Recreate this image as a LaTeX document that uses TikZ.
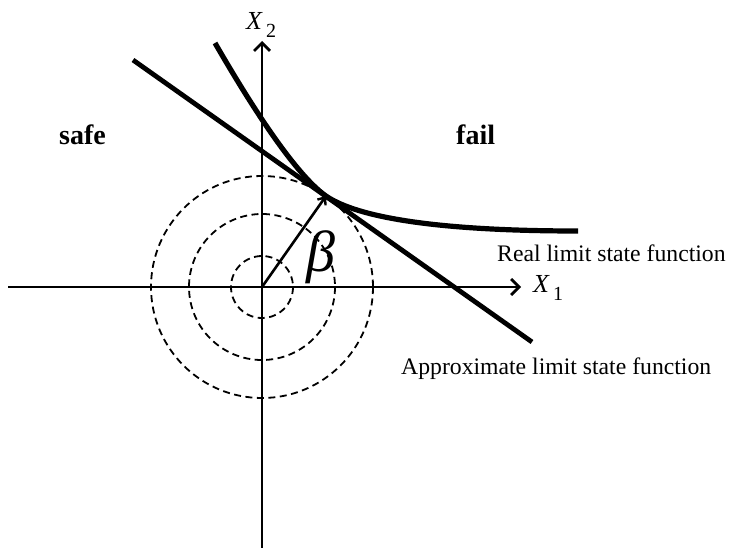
\documentclass[tikz,border=0pt]{standalone}
\usepackage{fontspec}
\setmainfont{Liberation Serif}
\usetikzlibrary{arrows.meta}
\tikzset{
  axisline/.style={line width=2.8pt,-{Straight Barb[length=8pt,width=16pt,line width=2.8pt]}},
  heavy/.style={line width=4.8pt},
  circ/.style={line width=1.8pt,dash pattern=on 7pt off 4.5pt},
  betaarrow/.style={line width=2.6pt,-{Straight Barb[length=6pt,width=10pt,line width=2.4pt]}},
  lab/.style={inner sep=0pt,anchor=base west,font=\fontsize{23.7}{24}\selectfont},
  region/.style={inner sep=0pt,anchor=base west,font=\fontsize{28}{28}\selectfont\bfseries},
  axlab/.style={inner sep=0pt,anchor=base west,font=\fontsize{26}{26}\selectfont\itshape},
  sublab/.style={inner sep=0pt,anchor=base west,font=\fontsize{20}{20}\selectfont},
}
\begin{document}
\begin{tikzpicture}[x=1pt,y=-1pt]
\path[use as bounding box,fill=white] (0,0) rectangle (730,548);
\coordinate (O) at (262,287);
\coordinate (T) at (326,196);
% circles
\draw[circ] (O) circle[radius=31];
\draw[circ] (O) circle[radius=73];
\draw[circ] (O) circle[radius=111];
% axes
\coordinate (xl) at (8,287);
\coordinate (xr) at (521,287);
\coordinate (yb) at (262,548);
\coordinate (yt) at (262,41);
\draw[axisline] (xl) -- (xr);
\draw[axisline] (yb) -- (yt);
% approximate line
\coordinate (a1) at (133,60);
\coordinate (a2) at (532,342);
\draw[heavy] (a1) -- (a2);
% real limit state curve
\coordinate (c1) at (215,43);
\coordinate (c2) at (578,231);
\draw[heavy,line width=5.2pt] (c1) .. controls (245,95) and (293,173) .. (T)
      .. controls (352,214) and (420,231) .. (c2);
% beta
\draw[betaarrow] (O) -- (T);
\node[inner sep=0pt,font=\fontsize{58}{58}\selectfont\itshape] (beta) at (321,257) {β};
% labels
\node[region] (safe) at (59,145) {safe};
\node[region] (fail) at (456,145) {fail};
\node[lab] (real) at (497,261) {Real limit state function};
\node[lab] (approx) at (401,374) {Approximate limit state function};
\node[axlab] (x2) at (246,30) {X};
\node[sublab] (x2s) at (266,38) {2};
\node[axlab] (x1) at (533,292) {X};
\node[sublab] (x1s) at (553,300) {1};
\end{tikzpicture}
\end{document}
